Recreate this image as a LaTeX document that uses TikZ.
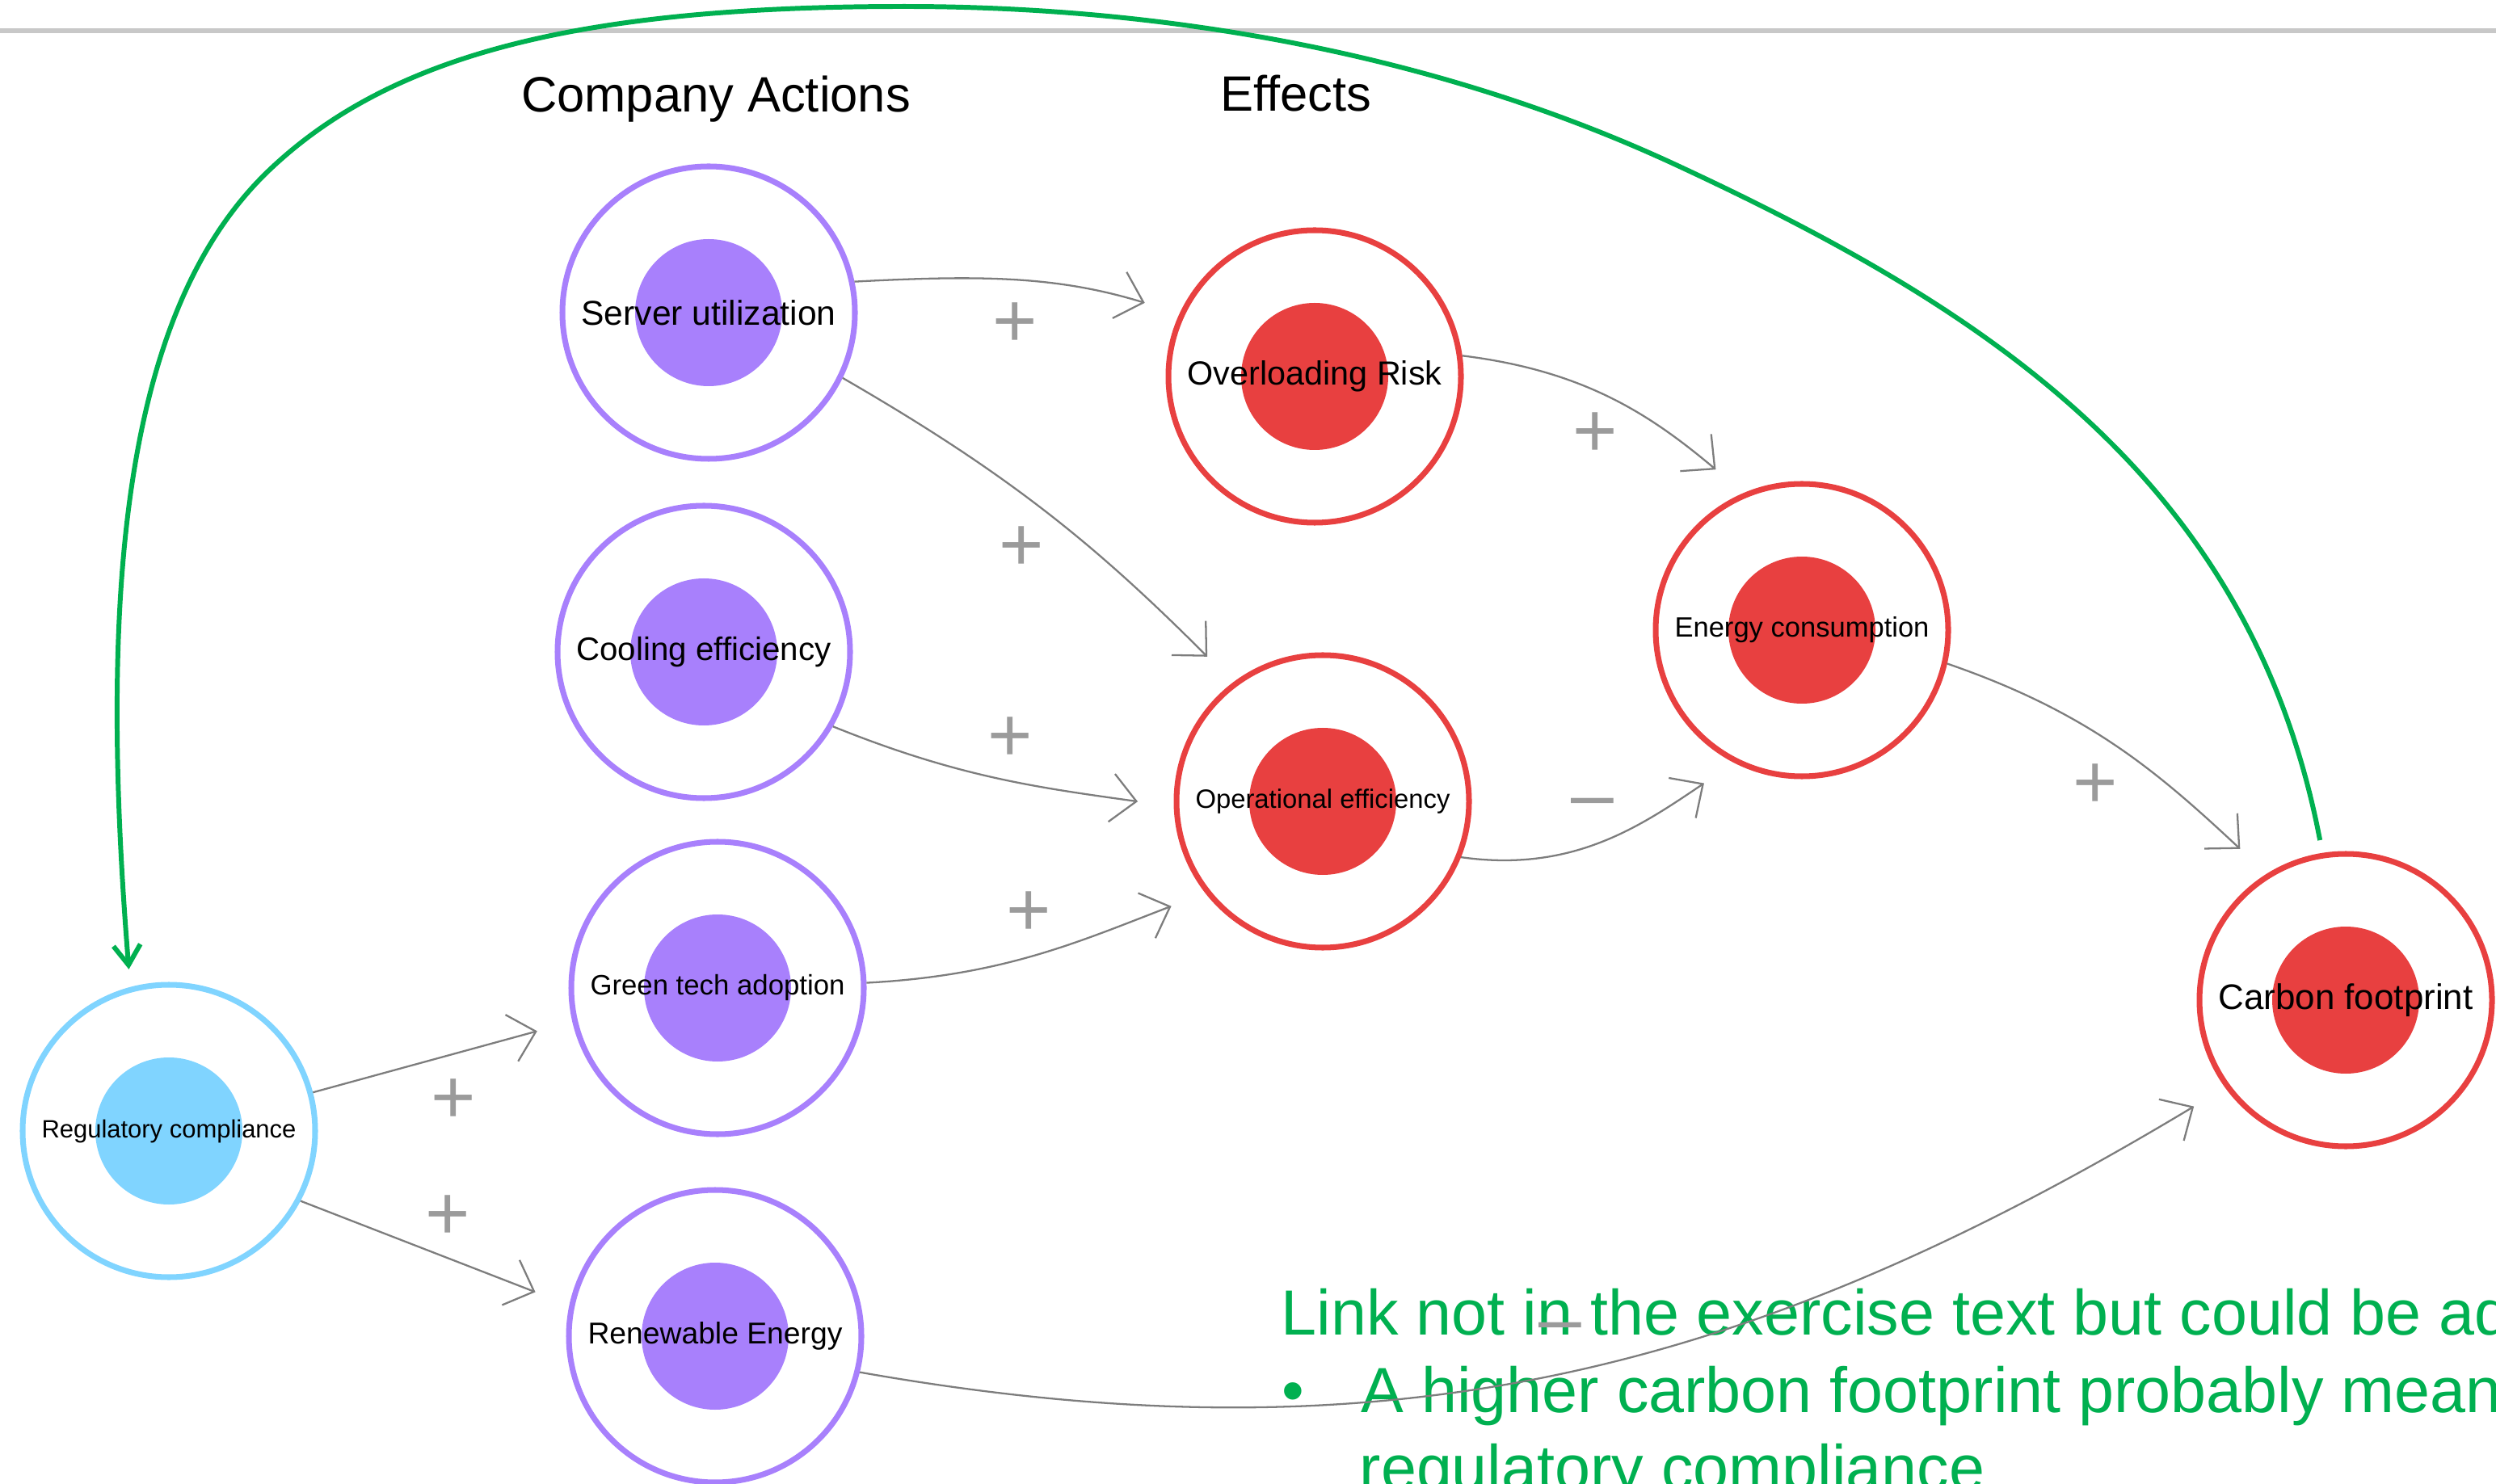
\documentclass[tikz,border=0pt]{standalone}
\usepackage{fontspec}
\setmainfont{Liberation Sans}
\usepackage{graphicx}
\usetikzlibrary{arrows.meta}

\definecolor{actpurple}{RGB}{168,128,252}
\definecolor{effred}{RGB}{232,64,64}
\definecolor{regblue}{RGB}{128,212,255}
\definecolor{notegreen}{RGB}{0,176,80}
\definecolor{linkgray}{RGB}{125,125,125}
\definecolor{signgray}{RGB}{155,155,155}
\definecolor{rulegray}{RGB}{200,200,200}

\newcommand{\fitlabel}[1]{\resizebox{3.15cm}{!}{#1}}

\tikzset{
  factor/.style={circle, draw=#1, line width=2pt, fill=white, minimum size=3.62cm, inner sep=0pt,
    path picture={\fill[#1] (path picture bounding box.center) circle (0.91cm);}},
  link/.style={draw=linkgray, line width=0.65pt, -{Straight Barb[length=8.8pt,width=17pt]}, shorten >=0.45cm},
  backlink/.style={draw=notegreen, line width=1.7pt, -{Straight Barb[length=7pt,width=9.5pt]}, shorten >=0.22cm, shorten <=0.16cm},
  sign/.style={anchor=base, text=signgray, inner sep=0pt, font=\fontsize{27}{30}\selectfont},
  heading/.style={anchor=base, font=\fontsize{17.5}{21}\selectfont},
  note/.style={anchor=base west, inner sep=0pt, text=notegreen, font=\fontsize{22.5}{27}\selectfont},
}

\begin{document}
\begin{tikzpicture}
\useasboundingbox (0,0) rectangle (30.89,-18.37);
% rule across the top
\draw[rulegray, line width=1.5pt] (0,-0.38) -- (30.89,-0.38);

% headings
\node[heading] (hact) at (8.86,-1.39) {Company Actions};
\node[heading] (heff) at (16.04,-1.38) {Effects};

% company actions
\node[factor=actpurple] (srv) at (8.77,-3.87) {\fitlabel{Server utilization}};
\node[factor=actpurple] (cool) at (8.71,-8.07) {\fitlabel{Cooling efficiency}};
\node[factor=actpurple] (gtech) at (8.88,-12.23) {\fitlabel{Green tech adoption}};
\node[factor=actpurple] (renew) at (8.85,-16.54) {\fitlabel{Renewable Energy}};
\node[factor=regblue] (reg) at (2.09,-14.00) {\fitlabel{Regulatory compliance}};

% effects
\node[factor=effred] (overload) at (16.27,-4.66) {\fitlabel{Overloading Risk}};
\node[factor=effred] (opeff) at (16.37,-9.92) {\fitlabel{Operational efficiency}};
\node[factor=effred] (energy) at (22.30,-7.80) {\fitlabel{Energy consumption}};
\node[factor=effred] (carbon) at (29.03,-12.38) {\fitlabel{Carbon footprint}};

% note on the extra link
\node[note] (note1) at (15.85,-16.52) {Link not in the exercise text but could be added};
\node[note] (dot) at (15.86,-17.48) {•};
\node[note] (note2) at (16.84,-17.48) {A higher carbon footprint probably means};
\node[note] (note3) at (16.82,-18.44) {regulatory compliance};

% links
\draw[link] (srv.12) to[out=3,in=163] (overload.155);
\draw[link] (srv.-26) to[out=-30,in=135] (opeff.127);
\draw[link] (cool.-30) to[out=-22,in=172] (opeff.182);
\draw[link] (gtech.2) to[out=3,in=201] (opeff.218);
\draw[link] (reg.15) -- (gtech.193);
\draw[link] (reg.-28) -- (renew.168);
\draw[link] (overload.8) to[out=-7,in=140] (energy.113);
\draw[link] (opeff.-22) to[out=-8,in=214] (energy.243);
\draw[link] (energy.-13) to[out=-19,in=137] (carbon.122);
\draw[link] (renew.-14) to[out=-10,in=211] (carbon.216);

% polarities
\node[sign] (s1) at (12.56,-4.30) {+};
\node[sign] (s2) at (12.64,-7.07) {+};
\node[sign] (s3) at (12.50,-9.43) {+};
\node[sign] (s4) at (12.73,-11.58) {+};
\node[sign] (s5) at (5.61,-13.90) {+};
\node[sign] (s6) at (5.54,-15.34) {+};
\node[sign] (s7) at (19.74,-5.66) {+};
\node[sign] (s8) at (19.71,-10.15) {–};
\node[sign] (s9) at (25.93,-10.01) {+};
\node[sign] (s10) at (19.31,-16.64) {–};

% feedback carbon -> regulation
\draw[backlink] (carbon.99) .. controls (27.85,-5.91) and (24.55,-3.81) .. (20.74,-2.04)
  .. controls (17.79,-0.67) and (14.44,-0.08) .. (11.19,-0.08)
  .. controls (7.19,-0.08) and (4.87,-0.67) .. (3.37,-2.07)
  .. controls (1.54,-3.77) and (1.21,-7.24) .. (reg.105);
\end{tikzpicture}
\end{document}
